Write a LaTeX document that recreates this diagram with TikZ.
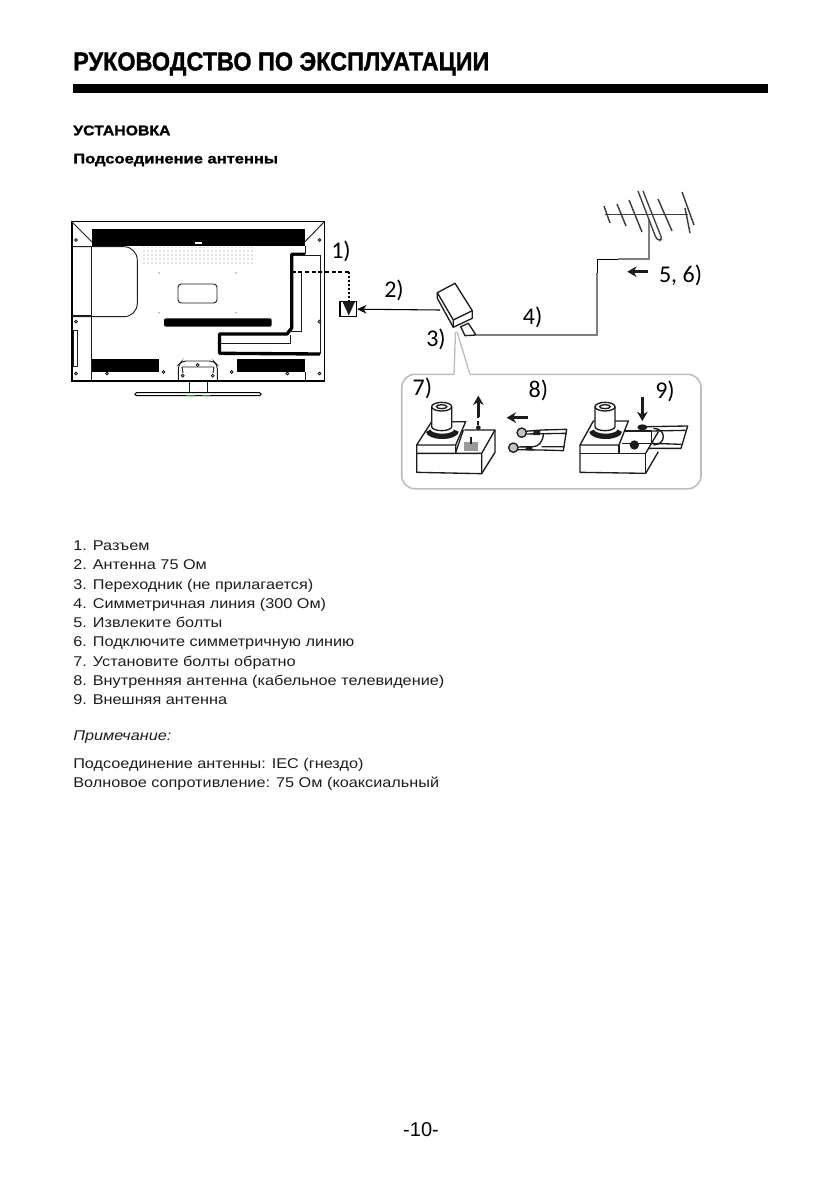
\documentclass[tikz,border=0pt]{standalone}
\usepackage{fontspec}
\setmainfont{Liberation Sans}
\newfontfamily\labelfont{Carlito}
\newfontfamily\headfont[BoldFeatures={FakeBold=1.2}]{Liberation Sans}
\usetikzlibrary{arrows.meta,positioning,calc,patterns}
\definecolor{figgrey}{HTML}{9A9A9A}
\definecolor{figink}{HTML}{1C1C1C}
\definecolor{figline}{HTML}{7F7F7F}
\definecolor{figbox}{HTML}{BDBDBD}
\tikzset{
  blackbar/.style={fill=black,draw=none},
  thinline/.style={draw=figink,line width=0.7pt},
  partline/.style={draw=figink,line width=1pt,line join=round},
  cable/.style={draw=figline,line width=1.6pt},
  boltarrow/.style={-{Stealth[length=7pt,width=8pt]},line width=2pt,color=figink},
  callno/.style={font=\labelfont\fontsize{18}{20}\selectfont,text=black,inner sep=0pt},
  bodytext/.style={font=\fontsize{10.6}{14.44}\selectfont,align=left,anchor=north west,inner sep=0pt,text=figink,xscale=1.15},
  headtext/.style={anchor=west,inner sep=0pt,font=\headfont\bfseries\fontsize{10.5}{12}\selectfont}
}
\newcommand{\tvscrew}[1]{\fill[figgrey] (#1) circle (1.6); \draw[black,line width=0.4pt] (#1) circle (1.6);}
\begin{document}
\begin{tikzpicture}[x=0.75pt,y=-0.75pt]
\useasboundingbox (0,0) rectangle (839,1191);

% heading
\node[anchor=west,inner sep=0pt,font=\headfont\bfseries\fontsize{19.5}{24}\selectfont,xscale=0.9] (title) at (73,64) {РУКОВОДСТВО ПО ЭКСПЛУАТАЦИИ};
\fill[black] (73,84) rectangle (768,93);
\node[headtext,xscale=1.13] (section) at (73,130.5) {УСТАНОВКА};
\node[headtext,xscale=1.18] (subsection) at (73,160) {Подсоединение антенны};

% tv rear
\draw[black,line width=1.2pt] (71.7,221.7) rectangle (324.3,381.5);
\fill[black] (71.7,379.5) rectangle (324.3,382.3);
\fill[blackbar] (91.7,229) rectangle (305,245.7);
\fill[white] (195,241.7) rectangle (202,243.7);
\draw[thinline] (71.7,221.7) -- (91.7,241.7) (324.3,221.7) -- (305,241.7);
\draw[thinline] (91.7,245.7) -- (91.7,380) (305,245.7) -- (305,254) (305,372) -- (305,380);
\draw[thinline,rounded corners=10] (71.7,246.7) -- (137.3,246.7) -- (137.3,316.7) -- (71.7,316.7);
\draw[thinline] (71.7,315) -- (91.7,315);
\draw[thinline] (73.5,330) rectangle (77,366);
\fill[pattern=dots,pattern color=gray] (143,247.7) rectangle (252.7,263.3);
\draw[thinline,rounded corners=2.5] (178,284) rectangle (217,303);
\fill[black,rounded corners=1.5] (164,318.3) rectangle (271.7,326.7);
\fill[blackbar] (91.7,359) rectangle (159,372.3);
\fill[blackbar] (237.3,359) rectangle (305,372.3);
\draw[black,line width=2.5pt,line join=round] (305,254.3) -- (291.7,254.3) -- (291.7,328) -- (287,334) -- (219.5,334) -- (219.5,353.3) -- (320,354);
\draw[thinline] (294,255.5) -- (320,255.5) -- (320,354);
\draw[thinline] (301.7,272) -- (301.7,331.7) -- (290,331.7);
\draw[thinline] (290,335) -- (290,343.3) -- (220,343.3);
\draw[thinline,rounded corners=3] (178.3,380) -- (178.3,365) -- (182,361) -- (213.5,361) -- (217.3,365) -- (217.3,380);
\draw[thinline] (182,367) -- (214,367) (182,367) -- (183,373) (214,367) -- (213,373);
\tvscrew{76,240} \tvscrew{319.5,240} \tvscrew{76,321.7} \tvscrew{319.5,321.7}
\tvscrew{76,373.5} \tvscrew{319.5,373.5} \tvscrew{107,373.5} \tvscrew{163.5,372}
\tvscrew{197.7,365} \tvscrew{182.7,375.7} \tvscrew{212.7,375.7} \tvscrew{231.7,372} \tvscrew{287.3,373.5}
\fill[figgrey] (159,273) circle (0.8) (236,273) circle (0.8) (159,312.7) circle (0.8) (236,312.7) circle (0.8);
\draw[thinline] (189.3,382) -- (189.3,393) (207.3,382) -- (207.3,393);
\draw[black,line width=0.8pt,rounded corners=1] (135,392.7) rectangle (261,395.7);
\fill[black] (137,395) rectangle (259,396);
\fill[green!60!black] (186,395) rectangle (195,396) (202,395) rectangle (210,396);

% socket
\node[draw=black,line width=0.8pt,minimum width=12.5pt,minimum height=11.5pt,inner sep=0pt,fill=white] (socket) at (348.3,309.2) {};
\fill[figink] (342.5,301.7) -- (355,301.7) -- (348.8,315.5) -- cycle;
\coordinate (tapout) at (291.7,271.7);
\coordinate (tapcorner) at (349,271.7);
\draw[black,line width=1.2pt,dash pattern=on 3pt off 2pt] (tapout) -- (tapcorner);
\draw[black,line width=1.2pt,dash pattern=on 1.5pt off 1.5pt] (tapcorner) -- (socket.north -| tapcorner);

% adapter
\draw[partline,fill=white] (437.3,292.7) -- (455,283.3) -- (472.3,310.7) -- (472.3,318.3) -- (453.3,327.3) -- (437.3,298.3) -- cycle;
\draw[partline] (437.3,292.7) -- (453.3,320) -- (472.3,310.7) (453.3,320) -- (453.3,327.3);
\draw[partline] (460.7,326.7) -- (468.3,323.3) -- (476,335) -- (465,335.7) -- cycle;
\coordinate (adapterleft) at (440,310);
\coordinate (adapterout) at (476,335);
\draw[-{Stealth[length=7pt,width=6.5pt]},black,line width=0.8pt] (adapterleft) -- (socket.east);

% cable
\coordinate (cableup) at (597.3,273.3);
\coordinate (cableblack) at (597.3,259.3);
\coordinate (cablemid) at (618.3,259.3);
\coordinate (mast) at (649,259.3);
\coordinate (boomfoot) at (649,220);
\draw[cable] (adapterout) -- (597.3,335) -- (cableup);
\draw[black,line width=1.2pt] (cableup) -- (cableblack) -- (cablemid);
\draw[cable] (cablemid) -- (mast) -- (boomfoot);

% aerial
\draw[draw=figink!85,line width=1.1pt] (604.5,214.3) -- (688.3,214.3);
\foreach \xa/\ya/\xb/\yb in {604/206/610/223,617/204/626/226,629/200/642/232,658/199/672/231,682/192/694/225,685/208/690/233}
  \draw[draw=figink!85,line width=1.1pt] (\xa,\ya) -- (\xb,\yb);
\draw[figink!85,line width=1pt,rounded corners=1.5] (638,191) -- (656,238) -- (659,241) -- (662,239) -- (643,191);

% leader and inset
\draw[figbox,line width=1pt] (455.5,331.7) -- (454,374.3);
\draw[figbox,line width=1pt] (457,331.7) -- (470,374.3);
\draw[figbox,line width=1.2pt,rounded corners=10] (454,374.3) -- (401.7,374.3) -- (401.7,488.8) -- (701,488.8) -- (701,374.3) -- (470,374.3);

\begin{scope}[shift={(395,365)},x=0.25pt,y=-0.25pt]
% left plug
\draw[partline] (65,240) -- (110,170) -- (212,170) -- (182,240) -- cycle;
\draw[partline] (65,240) -- (65,322) -- (260,326) -- (300,262) -- (300,195) -- (208,195);
\draw[partline] (65,265) -- (260,265) -- (300,195) (182,240) -- (182,265) (260,265) -- (260,326);
\draw[partline] (182,262) -- (205,195);
\fill[figgrey] (208,232) rectangle (250,258);
\draw[figink,line width=1.6pt] (228,215) -- (228,238);
\draw[figink,line width=4pt] (100,197) arc[start angle=180,end angle=0,x radius=42,y radius=17];
\draw[partline,fill=white] (110,125) -- (110,185) arc[start angle=180,end angle=0,x radius=30,y radius=12] -- (170,125);
\draw[partline,fill=white] (140,125) ellipse (30 and 13);
\draw[partline] (140,125) ellipse (16 and 6);
\fill[figink] (250,188) circle (7);
\draw[figink,line width=1.4pt,dashed] (250,180) -- (250,155);
\draw[boltarrow] (250,155) -- (250,92);
% ribbon lead
\draw[boltarrow] (400,158) -- (335,158);
\draw[partline] (390,199) -- (440,195) -- (515,193) -- (505,257) -- (440,255) -- (364,254);
\draw[partline] (390,207) -- (515,205) (364,246) -- (415,245) (440,245) -- (508,245);
\draw[partline] (445,206) .. controls (445,230) and (430,245) .. (415,245);
\draw[partline,fill=figgrey!60] (380,203) circle (14);
\draw[partline,fill=figgrey!60] (355,248) circle (14);
\fill[figink] (415,197) rectangle (435,210) (392,243) rectangle (412,256);
% right plug
\draw[partline] (555,240) -- (595,168) -- (700,168) -- (672,240) -- cycle;
\draw[partline] (555,240) -- (555,322) -- (752,325) -- (790,260);
\draw[partline] (555,265) -- (752,265) -- (752,325) (672,240) -- (672,265);
\draw[figink,line width=4pt] (590,197) arc[start angle=180,end angle=0,x radius=42,y radius=17];
\draw[partline,fill=white] (600,125) -- (600,185) arc[start angle=180,end angle=0,x radius=30,y radius=12] -- (660,125);
\draw[partline,fill=white] (630,125) ellipse (30 and 13);
\draw[partline] (630,125) ellipse (16 and 6);
\draw[partline] (690,198) -- (770,198) -- (770,235) -- (680,235);
\draw[partline] (752,265) -- (790,200);
\draw[partline] (755,185) -- (878,183) -- (858,250) -- (760,250);
\draw[partline] (770,198) -- (872,196) (770,235) -- (860,238);
\draw[partline] (775,190) .. controls (815,190) and (815,240) .. (775,240);
\fill[figink] (742,187) ellipse (15 and 9);
\fill[figink] (718,240) circle (14);
\draw[boltarrow] (742,95) -- (742,168);
\end{scope}

\node[callno] (no1) at (341,251.7) {1)};
\node[callno] (no2) at (394,290.7) {2)};
\node[callno] (no3) at (436,339) {3)};
\node[callno] (no4) at (532.7,317.7) {4)};
\node[callno] (no56) at (680.5,275) {5, 6)};
\node[callno] (no7) at (422.3,388.3) {7)};
\node[callno] (no8) at (538.3,390) {8)};
\node[callno] (no9) at (665,391.7) {9)};
\coordinate (arrowstart) at (648.3,271.7);
\coordinate (arrowend) at (627.3,271.7);
\draw[boltarrow] (arrowstart) -- (arrowend);

% text blocks
\node[bodytext] (partlist) at (73,540.5) {1. Разъем\\2. Антенна 75 Ом\\3. Переходник (не прилагается)\\4. Симметричная линия (300 Ом)\\5. Извлеките болты\\6. Подключите симметричную линию\\7. Установите болты обратно\\8. Внутренняя антенна (кабельное телевидение)\\9. Внешняя антенна};
\node[bodytext,font=\itshape\fontsize{10.6}{14.44}\selectfont] (notehead) at (73,731) {Примечание:};
\node[bodytext] (notetext) at (73,757.5) {Подсоединение антенны: IEC (гнездо)\\Волновое сопротивление: 75 Ом (коаксиальный};
\node[inner sep=0pt,font=\fontsize{15}{18}\selectfont] (pageno) at (421,1130) {-10-};
\end{tikzpicture}
\end{document}
